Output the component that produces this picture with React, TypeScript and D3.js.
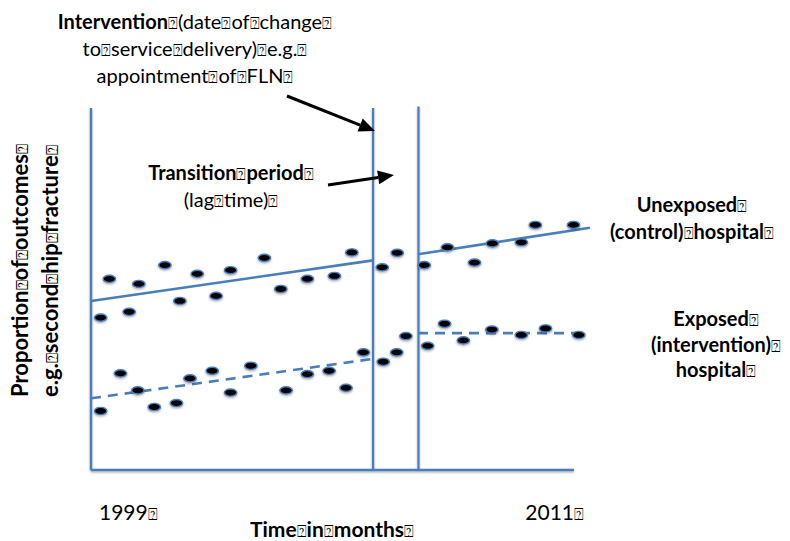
import React from "react";
import * as d3 from "d3";

// ---- data (time index 0..100 across 1999–2011; outcome proportion 0..100) ----
const unexposedX = [2.0, 3.8, 7.9, 9.9, 15.3, 18.4, 22.0, 25.9, 28.9, 35.9, 39.3, 44.8, 50.4, 54.0, 60.3, 63.4, 69.0, 73.8, 79.4, 83.1, 89.1, 92.0, 99.9];
const unexposedY = [42.1, 52.8, 43.7, 51.4, 56.6, 46.7, 54.2, 48.1, 55.2, 58.6, 50.0, 52.8, 53.6, 60.1, 56.0, 60.0, 56.6, 61.5, 57.3, 62.6, 62.9, 67.7, 67.7];
const exposedX = [2.0, 6.1, 9.7, 13.1, 17.7, 20.5, 25.1, 28.9, 33.1, 40.4, 44.8, 49.3, 52.8, 56.4, 60.5, 63.3, 65.2, 69.7, 73.2, 77.1, 83.0, 89.1, 94.1, 101.0];
const exposedY = [16.3, 26.7, 22.0, 17.4, 18.5, 25.3, 27.4, 21.4, 28.8, 22.0, 26.5, 27.4, 22.7, 32.5, 29.9, 32.5, 37.0, 34.3, 40.4, 35.8, 38.8, 37.3, 39.1, 37.3];
// trend segments: [x0, y0, x1, y1]
const unexposedPre = [0, 46.7, 58.4, 57.9];
const unexposedPost = [67.7, 59.6, 103.3, 66.9];
const exposedPre = [0, 19.8, 58.4, 30.7];
const exposedPost = [67.7, 37.8, 102.3, 37.8];
const interventionX = 58.4;
const transitionEndX = 67.8;
const timeLabels = ["1999⍰", "2011⍰"];

const BLUE = "#4A7EBB";
const FONT = "Lato, 'Open Sans', sans-serif";

const x = d3.scaleLinear().domain([0, 100]).range([91, 574]);
const y = d3.scaleLinear().domain([0, 100]).range([470, 108]);

function Boxed({ s, bold }: { s: string; bold?: boolean }) {
  const parts = s.split(/(⍰)/);
  return (
    <>
      {parts.map((p, i) =>
        p === "⍰" ? (
          <tspan key={i} fontFamily="'DejaVu Sans'" fontSize="0.78em" fontWeight="normal">⍰</tspan>
        ) : (
          <tspan key={i} fontWeight={bold ? "bold" : undefined}>{p}</tspan>
        )
      )}
    </>
  );
}

function Arrow({ x1, y1, x2, y2 }: { x1: number; y1: number; x2: number; y2: number }) {
  const a = Math.atan2(y2 - y1, x2 - x1);
  const L = 16, W = 7;
  const bx = x2 - L * Math.cos(a), by = y2 - L * Math.sin(a);
  const px = -Math.sin(a) * W, py = Math.cos(a) * W;
  return (
    <g>
      <line x1={x1} y1={y1} x2={bx} y2={by} stroke="#000" strokeWidth={3} />
      <polygon points={`${x2},${y2} ${bx + px},${by + py} ${bx - px},${by - py}`} fill="#000" />
    </g>
  );
}

function Seg({ s, dashed }: { s: number[]; dashed?: boolean }) {
  return (
    <line x1={x(s[0])} y1={y(s[1])} x2={x(s[2])} y2={y(s[3])} stroke={BLUE} strokeWidth={2.6}
      strokeDasharray={dashed ? "10 7" : undefined} />
  );
}

export default function App() {
  const dots = (xs: number[], ys: number[]) =>
    xs.map((v, i) => (
      <ellipse key={i} cx={x(v)} cy={y(ys[i])} rx={6.2} ry={3.6} fill="#000" stroke={BLUE} strokeWidth={1.4} />
    ));
  return (
    <svg width={790} height={541} style={{ position: "absolute", left: 0, top: 0, background: "#fff" }} fontFamily={FONT}>
      <defs>
        <filter id="sh" x="-20%" y="-20%" width="140%" height="160%">
          <feDropShadow dx="0" dy="1.2" stdDeviation="0.8" floodColor="#000" floodOpacity="0.35" />
        </filter>
      </defs>
      {/* axes */}
      <g filter="url(#sh)">
        <line x1={x(0)} y1={y(100)} x2={x(0)} y2={y(0)} stroke={BLUE} strokeWidth={2.4} />
        <line x1={x(0)} y1={y(0)} x2={x(100)} y2={y(0)} stroke={BLUE} strokeWidth={2.4} />
        <line x1={x(interventionX)} y1={y(100)} x2={x(interventionX)} y2={y(0)} stroke={BLUE} strokeWidth={2.2} />
        <line x1={x(transitionEndX)} y1={y(100.4)} x2={x(transitionEndX)} y2={y(0)} stroke={BLUE} strokeWidth={2.2} />
      </g>
      {/* trend lines */}
      <Seg s={unexposedPre} />
      <Seg s={unexposedPost} />
      <Seg s={exposedPre} dashed />
      <Seg s={exposedPost} dashed />
      {/* points */}
      <g filter="url(#sh)">
        {dots(unexposedX, unexposedY)}
        {dots(exposedX, exposedY)}
      </g>
      {/* arrows */}
      <Arrow x1={287} y1={96} x2={375} y2={131} />
      <Arrow x1={328} y1={185} x2={394} y2={175} />
      {/* annotation text */}
      <g fontSize={20} fill="#000" textAnchor="middle">
        <text x={195} y={29}><Boxed s="Intervention" bold /><Boxed s="⍰(date⍰of⍰change⍰" /></text>
        <text x={195} y={56}><Boxed s="to⍰service⍰delivery)⍰e.g.⍰" /></text>
        <text x={195} y={83}><Boxed s="appointment⍰of⍰FLN⍰" /></text>
        <text x={231} y={180}><Boxed s="Transition⍰period⍰" bold /></text>
        <text x={231} y={207}><Boxed s="(lag⍰time)⍰" /></text>
        <text x={692} y={212}><Boxed s="Unexposed⍰" bold /></text>
        <text x={692} y={239}><Boxed s="(control)⍰hospital⍰" bold /></text>
        <text x={716} y={326}><Boxed s="Exposed⍰" bold /></text>
        <text x={716} y={352}><Boxed s="(intervention)⍰" bold /></text>
        <text x={716} y={377}><Boxed s="hospital⍰" bold /></text>
      </g>
      {/* time axis labels */}
      <g fontSize={21} fill="#000">
        <text x={99} y={520}><Boxed s={timeLabels[0]} /></text>
        <text x={584} y={520} textAnchor="end"><Boxed s={timeLabels[1]} /></text>
        <text x={332} y={537} textAnchor="middle"><Boxed s="Time⍰in⍰months⍰" bold /></text>
      </g>
      {/* y axis label */}
      <g fontSize={22} fill="#000">
        <text transform="translate(28,397) rotate(-90)"><Boxed s="Proportion⍰of⍰outcomes⍰" bold /></text>
        <text transform="translate(58,397) rotate(-90)"><Boxed s="e.g.⍰second⍰hip⍰fracture⍰" bold /></text>
      </g>
    </svg>
  );
}
